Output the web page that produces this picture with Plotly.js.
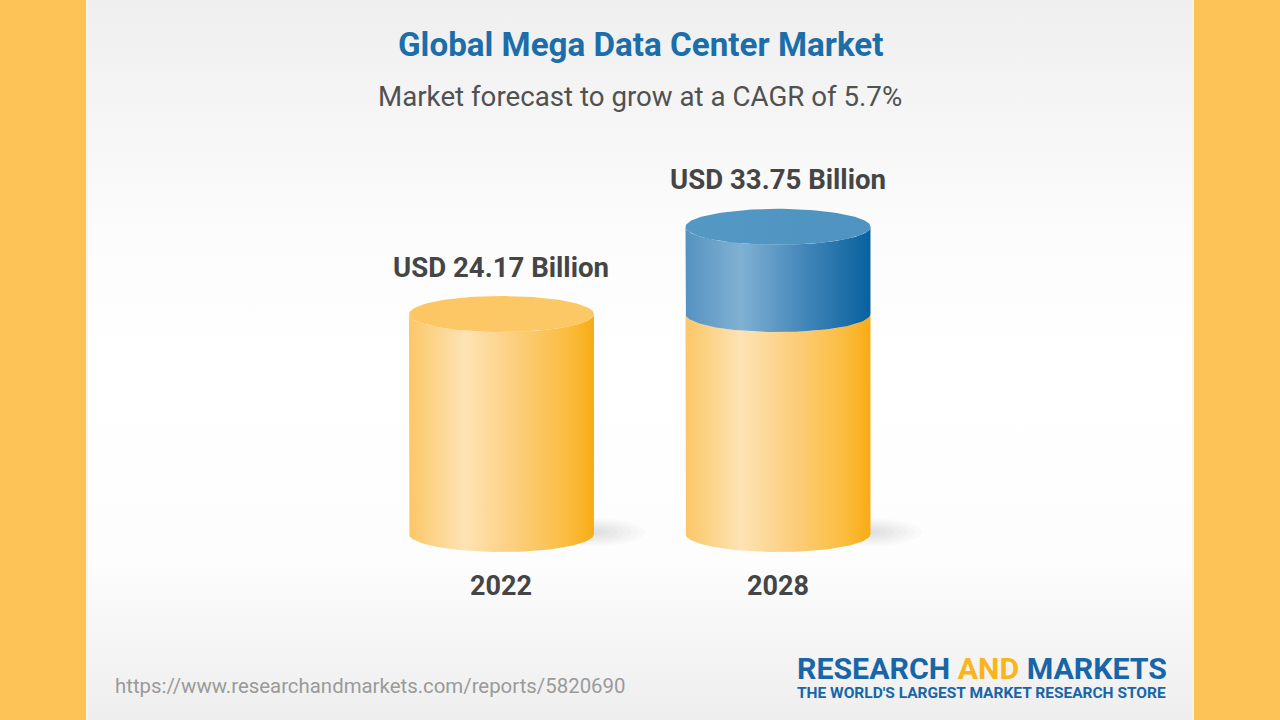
<!DOCTYPE html>
<html>
<head>
<meta charset="utf-8">
<script src="https://cdn.plot.ly/plotly-3.0.1.min.js"></script>
<style>html,body{margin:0;padding:0;background:#FDC356;}#chart{width:1280px;height:720px;}</style>
</head>
<body>
<div id="chart"></div>
<script>
// ---- data ----
const years = ['2022', '2028'];
const totals = [24.17, 33.75];          // market size, USD billion
const baseValues = [24.17, 24.17];      // 2022 market size (yellow part)
const valueLabels = ['USD 24.17 Billion', 'USD 33.75 Billion'];
const titleText = 'Global Mega Data Center Market';
const subtitleText = 'Market forecast to grow at a CAGR of 5.7%';
const sourceText = 'https://www.researchandmarkets.com/reports/5820690';

// ---- geometry (axis units) ----
const halfW = 0.3345;     // cylinder half width in x units
const capB = 1.98;        // ellipse vertical semi-axis in y units
const N = 64;

function bodyPath(xc, y0, y1) {
  const xs = [], ys = [];
  xs.push(xc - halfW); ys.push(y1);
  xs.push(xc - halfW); ys.push(y0);
  for (let k = 0; k <= N; k++) {
    const t = Math.PI + Math.PI * k / N;
    xs.push(xc + halfW * Math.cos(t)); ys.push(y0 + capB * Math.sin(t));
  }
  xs.push(xc + halfW); ys.push(y1);
  for (let k = 0; k <= N; k++) {
    const t = 2 * Math.PI - Math.PI * k / N;
    xs.push(xc + halfW * Math.cos(t)); ys.push(y1 + capB * Math.sin(t));
  }
  return {x: xs, y: ys};
}
function ellipse(xc, yc, a, b) {
  const xs = [], ys = [];
  for (let k = 0; k <= N * 2; k++) {
    const t = 2 * Math.PI * k / (N * 2);
    xs.push(xc + a * Math.cos(t)); ys.push(yc + b * Math.sin(t));
  }
  return {x: xs, y: ys};
}

const yellowScale = [[0, '#FBC767'], [0.3, '#FDE3B4'], [0.55, '#FCD083'], [0.85, '#FBBD41'], [1, '#F8AC14']];
const blueScale = [[0, '#5592C0'], [0.3, '#80B1D4'], [0.6, '#4A8BBC'], [1, '#07619E']];
const yellowCap = [[0, '#FCC664'], [1, '#FCC866']];
const blueCap = [[0, '#5498C4'], [1, '#4E93C1']];

const traces = [];
function addFill(p, scale, x0, x1) {
  traces.push({
    type: 'scatter', mode: 'lines', x: p.x, y: p.y, fill: 'toself',
    line: {width: 0, color: 'rgba(0,0,0,0)'},
    fillgradient: {type: 'horizontal', colorscale: scale, start: x0, stop: x1},
    hoverinfo: 'skip', showlegend: false
  });
}
function addShadow(xc) {
  for (let s = 0; s < 7; s++) {
    const f = 1 - s * 0.13;
    const p = ellipse(xc + 0.33, 0.2, 0.19 * f, 1.55 * f);
    traces.push({
      type: 'scatter', mode: 'lines', x: p.x, y: p.y, fill: 'toself',
      line: {width: 0, color: 'rgba(0,0,0,0)'}, fillcolor: 'rgba(90,90,90,0.022)',
      hoverinfo: 'skip', showlegend: false
    });
  }
}

years.forEach((yr, i) => {
  addShadow(i);
  addFill(bodyPath(i, 0, baseValues[i]), yellowScale, i - halfW, i + halfW);
  if (totals[i] > baseValues[i]) {
    addFill(bodyPath(i, baseValues[i], totals[i]), blueScale, i - halfW, i + halfW);
    addFill(ellipse(i, totals[i], halfW, capB), blueCap, i - halfW, i + halfW);
  } else {
    addFill(ellipse(i, totals[i], halfW, capB), yellowCap, i - halfW, i + halfW);
  }
});

const annotations = [];
years.forEach((yr, i) => {
  annotations.push({x: i, y: 0, xref: 'x', yref: 'y', text: '<b>' + yr + '</b>', showarrow: false,
    xanchor: 'center', yshift: -52, yanchor: 'middle', font: {family: 'Roboto', size: 27, color: '#454545'}});
  annotations.push({x: i, y: totals[i], xref: 'x', yref: 'y', text: '<b>' + valueLabels[i] + '</b>', showarrow: false,
    xanchor: 'center', yshift: 47, yanchor: 'middle', font: {family: 'Roboto', size: 27.6, color: '#454545'}});
});
annotations.push({x: 640 / 1280, y: 1 - 44 / 720, xref: 'paper', yref: 'paper', text: '<b>' + titleText + '</b>',
  showarrow: false, xanchor: 'center', yanchor: 'middle', font: {family: 'Roboto', size: 33.2, color: '#1B6EA9'}});
annotations.push({x: 640 / 1280, y: 1 - 97 / 720, xref: 'paper', yref: 'paper', text: subtitleText,
  showarrow: false, xanchor: 'center', yanchor: 'middle', font: {family: 'Roboto', size: 27.7, color: '#515151'}});
annotations.push({x: 113 / 1280, y: 1 - 686 / 720, xref: 'paper', yref: 'paper', text: sourceText,
  showarrow: false, xanchor: 'left', yanchor: 'middle', font: {family: 'Roboto', size: 20.4, color: '#9A9A9A'}});
annotations.push({x: 981.5 / 1280, y: 1 - 668 / 720, xref: 'paper', yref: 'paper',
  text: '<b>RESEARCH <span style="color:#F9B51C">AND</span> MARKETS</b>',
  showarrow: false, xanchor: 'center', yanchor: 'middle', font: {family: 'Roboto', size: 30.3, color: '#1766A8'}});
annotations.push({x: 981.5 / 1280, y: 1 - 693 / 720, xref: 'paper', yref: 'paper',
  text: "<b>THE WORLD'S LARGEST MARKET RESEARCH STORE</b>",
  showarrow: false, xanchor: 'center', yanchor: 'middle', font: {family: 'Roboto', size: 15.5, color: '#1766A8'}});

const bgSvg = '<svg xmlns="http://www.w3.org/2000/svg" width="1280" height="720">' +
  '<defs><linearGradient id="g" x1="0" y1="0" x2="0" y2="1">' +
  '<stop offset="0" stop-color="#EFEFEF"/><stop offset="0.3" stop-color="#FBFBFB"/>' +
  '<stop offset="0.5" stop-color="#FFFFFF"/><stop offset="0.78" stop-color="#FDFDFD"/>' +
  '<stop offset="1" stop-color="#EEEEEE"/></linearGradient></defs>' +
  '<rect x="0" y="0" width="1280" height="720" fill="#FDC356"/>' +
  '<rect x="87" y="0" width="1106" height="720" fill="url(#g)"/>' +
  '<rect x="86" y="0" width="2" height="720" fill="#F7F3EA"/>' +
  '<rect x="1192" y="0" width="2" height="720" fill="#F7F3EA"/></svg>';

const layout = {
  width: 1280, height: 720,
  margin: {l: 0, r: 0, t: 0, b: 0},
  paper_bgcolor: '#FDC356', plot_bgcolor: 'rgba(0,0,0,0)',
  xaxis: {range: [-1.8137, 2.8156], visible: false, fixedrange: true},
  yaxis: {range: [-20.44, 58.68], visible: false, fixedrange: true},
  showlegend: false,
  annotations: annotations,
  images: [{source: 'data:image/svg+xml;charset=utf-8,' + encodeURIComponent(bgSvg),
    xref: 'paper', yref: 'paper', x: 0, y: 1, sizex: 1, sizey: 1,
    xanchor: 'left', yanchor: 'top', sizing: 'stretch', layer: 'below'}]
};

Plotly.newPlot('chart', traces, layout, {displayModeBar: false, staticPlot: true});
</script>
</body>
</html>
